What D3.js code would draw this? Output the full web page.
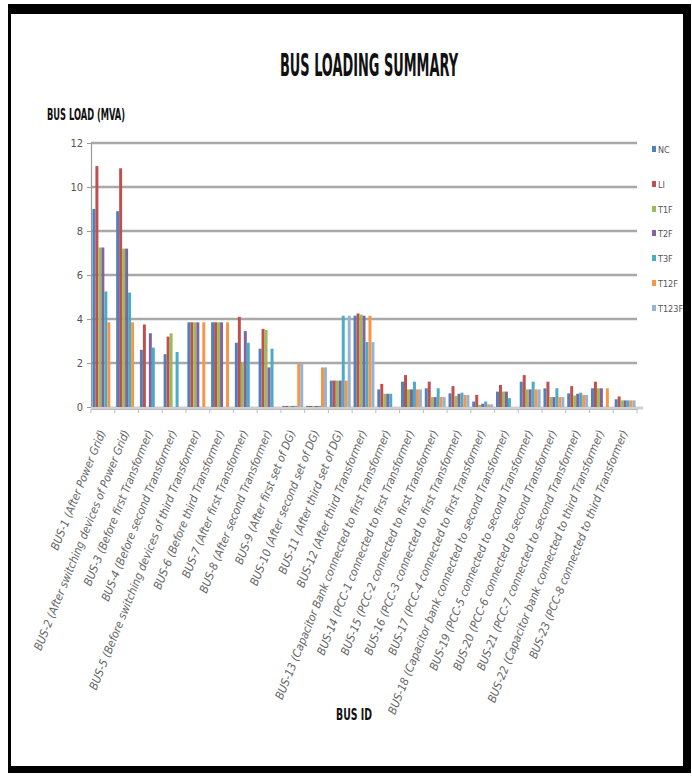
<!DOCTYPE html>
<html>
<head>
<meta charset="utf-8">
<script src="https://cdn.jsdelivr.net/npm/d3@7"></script>
<style>
  html, body { margin: 0; padding: 0; background: #fff; }
  svg { display: block; }
</style>
</head>
<body>
<svg id="chart" width="692" height="776"></svg>
<script>
const categories = [
  "BUS-1 (After Power Grid)",
  "BUS-2 (After switching devices of Power Grid)",
  "BUS-3 (Before first Transformer)",
  "BUS-4 (Before second Transformer)",
  "BUS-5 (Before switching devices of third Transformer)",
  "BUS-6 (Before third Transformer)",
  "BUS-7 (After first Transformer)",
  "BUS-8 (After second Transformer)",
  "BUS-9 (After first set of DG)",
  "BUS-10 (After second set of DG)",
  "BUS-11 (After third set of DG)",
  "BUS-12 (After third Transformer)",
  "BUS-13 (Capacitor Bank connected to first Transformer)",
  "BUS-14 (PCC-1 connected to first Transformer)",
  "BUS-15 (PCC-2 connected to first Transformer)",
  "BUS-16 (PCC-3 connected to first Transformer)",
  "BUS-17 (PCC-4 connected to first Transformer)",
  "BUS-18 (Capacitor bank connected to second Transformer)",
  "BUS-19 (PCC-5 connected to second Transformer)",
  "BUS-20 (PCC-6 connected to second Transformer)",
  "BUS-21 (PCC-7 connected to second Transformer)",
  "BUS-22 (Capacitor bank connected to third Transformer)",
  "BUS-23 (PCC-8 connected to third Transformer)"
];
const seriesNames = ["NC", "LI", "T1F", "T2F", "T3F", "T12F", "T123F"];
const NC    = [9.0, 8.9, 2.6, 2.4, 3.85, 3.85, 2.92, 2.65, 0.05, 0.05, 1.2, 4.15, 0.8, 1.15, 0.85, 0.62, 0.25, 0.7, 1.15, 0.85, 0.62, 0.85, 0.35];
const LI    = [10.95, 10.85, 3.75, 3.2, 3.85, 3.85, 4.1, 3.55, 0.05, 0.05, 1.2, 4.25, 1.05, 1.45, 1.15, 0.95, 0.55, 1.0, 1.45, 1.15, 0.95, 1.15, 0.48];
const T1F   = [7.25, 7.2, 0, 3.35, 3.85, 3.85, 2.02, 3.5, 0.05, 0.05, 1.2, 4.2, 0.6, 0.8, 0.45, 0.5, 0.1, 0.7, 0.8, 0.45, 0.52, 0.85, 0.3];
const T2F   = [7.25, 7.2, 3.35, 0, 3.85, 3.85, 3.45, 1.8, 0.05, 0.05, 1.2, 4.15, 0.6, 0.8, 0.45, 0.6, 0.15, 0.7, 0.8, 0.45, 0.6, 0.85, 0.3];
const T3F   = [5.25, 5.2, 2.7, 2.5, 0, 0, 2.92, 2.65, 0.05, 0.05, 4.15, 2.95, 0.6, 1.15, 0.85, 0.65, 0.25, 0.4, 1.15, 0.85, 0.65, 0, 0.3];
const T12F  = [3.85, 3.85, 0, 0, 3.85, 3.85, 0, 0, 1.98, 1.8, 1.2, 4.15, 0, 0.8, 0.45, 0.55, 0.12, 0, 0.8, 0.45, 0.55, 0.85, 0.3];
const T123F = [0, 0, 0, 0, 0, 0, 0, 0, 1.98, 1.8, 4.15, 2.95, 0, 0.8, 0.45, 0.55, 0.12, 0, 0.8, 0.45, 0.55, 0, 0.3];
const seriesValues = [NC, LI, T1F, T2F, T3F, T12F, T123F];
const colors = ["#4F81BD", "#C0504D", "#9BBB59", "#8064A2", "#4BACC6", "#F79646", "#95B3D7"];
const yTicks = [0, 2, 4, 6, 8, 10, 12];

const svg = d3.select("#chart");

// frame
svg.append("rect").attr("x", 8).attr("y", 4).attr("width", 683).attr("height", 769).attr("fill", "#000");
svg.append("rect").attr("x", 11).attr("y", 14).attr("width", 672).attr("height", 752).attr("fill", "#fff");

const plot = { left: 91, right: 637, top: 143, bottom: 407 };

const x0 = d3.scaleBand().domain(categories).range([plot.left, plot.right]).paddingInner(0.12).paddingOuter(0.06);
const x1 = d3.scaleBand().domain(seriesNames).range([0, x0.bandwidth()]).padding(0);
const y = d3.scaleLinear().domain([0, 12]).range([plot.bottom, plot.top]);

const fontNarrow = "'Liberation Sans Narrow', 'DejaVu Sans Condensed', 'Liberation Sans', sans-serif";

// gridlines
svg.append("g").selectAll("line").data(yTicks.filter(d => d > 0)).join("line")
  .attr("x1", plot.left).attr("x2", plot.right)
  .attr("y1", d => y(d)).attr("y2", d => y(d))
  .attr("stroke", "#a8a8a8").attr("stroke-width", 2.4);

// y axis
const yAxis = d3.axisLeft(y).tickValues(yTicks).tickSize(4).tickPadding(4).tickFormat(d3.format("d"));
const gy = svg.append("g").attr("transform", `translate(${plot.left},0)`).call(yAxis);
gy.select(".domain").attr("stroke", "#999").attr("stroke-width", 1.2);
gy.selectAll(".tick line").attr("stroke", "#999");
gy.selectAll(".tick text").attr("fill", "#555").attr("font-family", fontNarrow).attr("font-size", 11);

// baseline floor
svg.append("line").attr("x1", plot.left).attr("x2", plot.right + 6)
  .attr("y1", plot.bottom + 1).attr("y2", plot.bottom + 1)
  .attr("stroke", "#cfcfcf").attr("stroke-width", 3);

// bars
const groups = svg.append("g").selectAll("g").data(categories).join("g")
  .attr("transform", d => `translate(${x0(d)},0)`);
groups.selectAll("rect").data((c, i) => seriesNames.map((s, j) => ({ s, v: seriesValues[j][i], j })))
  .join("rect")
  .attr("x", d => x1(d.s))
  .attr("width", x1.bandwidth())
  .attr("y", d => y(d.v))
  .attr("height", d => y(0) - y(d.v))
  .attr("fill", d => colors[d.j]);

// x axis ticks
const xAxis = d3.axisBottom(x0).tickSize(0).tickFormat("");
const gx = svg.append("g").attr("transform", `translate(0,${plot.bottom + 2})`).call(xAxis);
gx.select(".domain").attr("stroke", "#bbb").attr("stroke-width", 1);
svg.append("g").selectAll("line").data(d3.range(categories.length + 1)).join("line")
  .attr("x1", i => plot.left + i * (plot.right - plot.left) / categories.length)
  .attr("x2", i => plot.left + i * (plot.right - plot.left) / categories.length)
  .attr("y1", plot.bottom + 2).attr("y2", plot.bottom + 6)
  .attr("stroke", "#bbb");

// x labels
svg.append("g").selectAll("text").data(categories).join("text")
  .attr("transform", d => `translate(${x0(d) + x0.bandwidth() / 2 + 3},${plot.bottom + 25}) rotate(-68)`)
  .attr("text-anchor", "end")
  .attr("font-family", fontNarrow)
  .attr("font-style", "italic")
  .attr("font-size", 11.5)
  .attr("fill", "#666")
  .text(d => d);

// title
svg.append("text").attr("x", 369).attr("y", 76).attr("text-anchor", "middle")
  .attr("font-family", fontNarrow).attr("font-weight", "bold").attr("font-size", 32)
  .attr("textLength", 178).attr("lengthAdjust", "spacingAndGlyphs")
  .attr("fill", "#111").text("BUS LOADING SUMMARY");

// y axis title
svg.append("text").attr("x", 47).attr("y", 120)
  .attr("font-family", fontNarrow).attr("font-weight", "bold").attr("font-size", 15)
  .attr("textLength", 78).attr("lengthAdjust", "spacingAndGlyphs")
  .attr("fill", "#111").text("BUS LOAD (MVA)");

// x axis title
svg.append("text").attr("x", 354).attr("y", 720).attr("text-anchor", "middle")
  .attr("font-family", fontNarrow).attr("font-weight", "bold").attr("font-size", 15)
  .attr("textLength", 36).attr("lengthAdjust", "spacingAndGlyphs")
  .attr("fill", "#111").text("BUS ID");

// legend
const legendY = [149, 184, 209, 233, 258, 283, 308];
const lg = svg.append("g").selectAll("g").data(seriesNames).join("g")
  .attr("transform", (d, i) => `translate(652,${legendY[i]})`);
lg.append("rect").attr("x", 0).attr("y", -3).attr("width", 4).attr("height", 6).attr("fill", (d, i) => colors[i]);
lg.append("text").attr("x", 6).attr("y", 3.5)
  .attr("font-family", fontNarrow).attr("font-size", 9).attr("fill", "#555").text(d => d);
</script>
</body>
</html>
